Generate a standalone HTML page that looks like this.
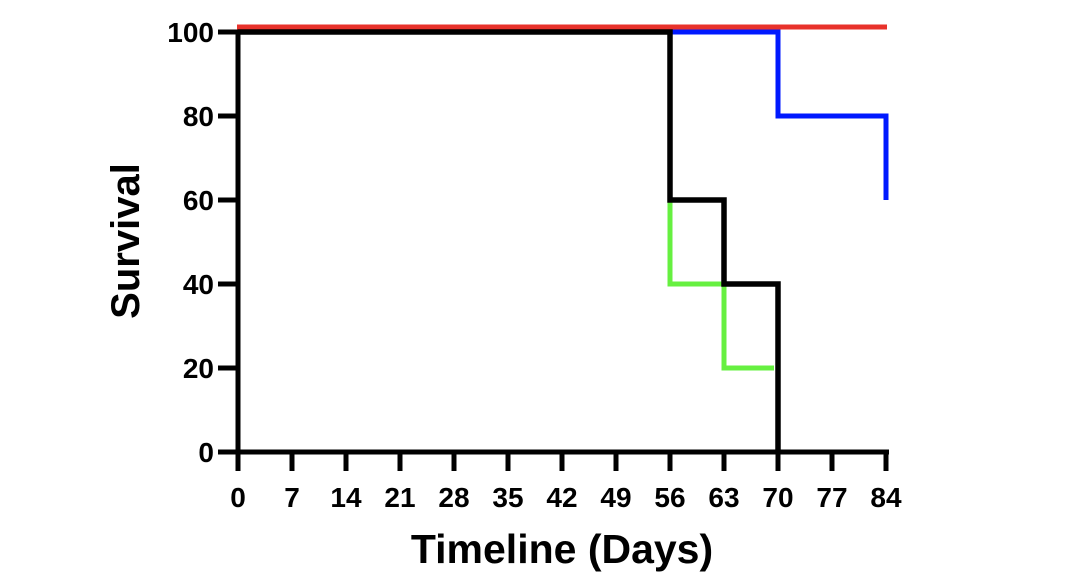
<!DOCTYPE html>
<html><head><style>html,body{margin:0;padding:0;background:#fff}</style></head><body>
<svg width="1068" height="580" xmlns="http://www.w3.org/2000/svg" font-family="Liberation Sans, Arial, sans-serif" font-weight="bold">
<g stroke="#000" stroke-width="5" fill="none">
<line x1="238" y1="30" x2="238" y2="455"/>
<line x1="236" y1="452" x2="889" y2="452"/>
<g>
<line x1="218" y1="32" x2="238" y2="32"/>
<line x1="218" y1="116" x2="238" y2="116"/>
<line x1="218" y1="200" x2="238" y2="200"/>
<line x1="218" y1="284" x2="238" y2="284"/>
<line x1="218" y1="368" x2="238" y2="368"/>
<line x1="218" y1="452" x2="238" y2="452"/>
</g>
<g>
<line x1="238" y1="452" x2="238" y2="471"/><line x1="292" y1="452" x2="292" y2="471"/><line x1="346" y1="452" x2="346" y2="471"/><line x1="400" y1="452" x2="400" y2="471"/><line x1="454" y1="452" x2="454" y2="471"/><line x1="508" y1="452" x2="508" y2="471"/><line x1="562" y1="452" x2="562" y2="471"/><line x1="616" y1="452" x2="616" y2="471"/><line x1="670" y1="452" x2="670" y2="471"/><line x1="724" y1="452" x2="724" y2="471"/><line x1="778" y1="452" x2="778" y2="471"/><line x1="832" y1="452" x2="832" y2="471"/><line x1="886" y1="452" x2="886" y2="471"/>
</g>
</g>
<polyline points="237,27 887,27" stroke="#e8322b" stroke-width="5" fill="none"/>
<polyline points="670,32 778,32 778,116 886,116 886,200" stroke="#0019ff" stroke-width="5" fill="none"/>
<polyline points="670,200 670,284 724,284 724,368 774,368" stroke="#66f040" stroke-width="5" fill="none"/>
<polyline points="238,32 670,32 670,200 724,200 724,284 778,284 778,452" stroke="#000" stroke-width="5.5" fill="none"/>
<g font-size="28" text-anchor="end">
<text x="214" y="42">100</text><text x="214" y="126">80</text><text x="214" y="210">60</text><text x="214" y="294">40</text><text x="214" y="378">20</text><text x="214" y="462">0</text>
</g>
<g font-size="28" text-anchor="middle">
<text x="238" y="507">0</text><text x="292" y="507">7</text><text x="346" y="507">14</text><text x="400" y="507">21</text><text x="454" y="507">28</text><text x="508" y="507">35</text><text x="562" y="507">42</text><text x="616" y="507">49</text><text x="670" y="507">56</text><text x="724" y="507">63</text><text x="778" y="507">70</text><text x="832" y="507">77</text><text x="886" y="507">84</text>
</g>
<text x="562" y="563" font-size="41" text-anchor="middle">Timeline (Days)</text>
<text transform="translate(139,241) rotate(-90)" font-size="40" text-anchor="middle">Survival</text>
</svg>
</body></html>
